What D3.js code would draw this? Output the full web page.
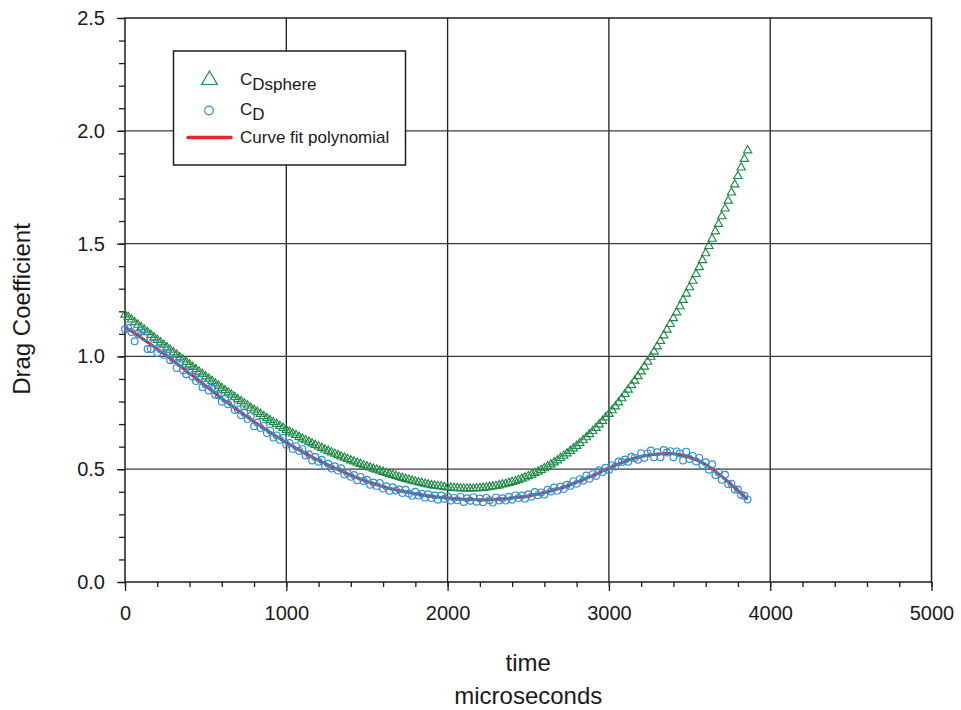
<!DOCTYPE html>
<html><head><meta charset="utf-8">
<script src="https://cdn.jsdelivr.net/npm/d3@7"></script>
<style>
body{margin:0;background:#fff}
svg{display:block}
text{font-family:"Liberation Sans",Arial,sans-serif;fill:#1a1a1a}
</style>
</head><body>
<svg id="chart" width="961" height="710"></svg>
<script>
// ---- data (time in microseconds, sampled every 20 µs from 0) ----
const sampleStep = 20;
const cdSphere = [
1.185,1.174,1.163,1.151,1.140, 1.129,1.118,1.107,1.095,1.084,
1.073,1.062,1.051,1.040,1.029, 1.018,1.007,0.996,0.986,0.975,
0.964,0.953,0.943,0.932,0.922, 0.911,0.901,0.891,0.880,0.870,
0.860,0.850,0.840,0.830,0.820, 0.810,0.801,0.791,0.782,0.772,
0.763,0.754,0.745,0.735,0.726, 0.717,0.708,0.700,0.691,0.683,
0.674,0.666,0.658,0.651,0.643, 0.635,0.628,0.621,0.614,0.607,
0.600,0.594,0.587,0.581,0.574, 0.568,0.562,0.556,0.551,0.545,
0.539,0.534,0.528,0.523,0.517, 0.512,0.507,0.502,0.498,0.493,
0.488,0.483,0.479,0.474,0.470, 0.465,0.461,0.457,0.453,0.449,
0.445,0.442,0.439,0.435,0.432, 0.429,0.427,0.425,0.423,0.421,
0.419,0.418,0.417,0.416,0.415, 0.414,0.414,0.414,0.414,0.415,
0.416,0.417,0.419,0.421,0.423, 0.425,0.428,0.432,0.435,0.439,
0.443,0.447,0.452,0.458,0.463, 0.469,0.475,0.482,0.489,0.496,
0.504,0.512,0.521,0.530,0.539, 0.549,0.559,0.570,0.581,0.592,
0.603,0.615,0.628,0.641,0.655, 0.669,0.683,0.698,0.714,0.729,
0.745,0.761,0.778,0.796,0.814, 0.833,0.852,0.872,0.892,0.912,
0.933,0.954,0.976,0.998,1.021, 1.044,1.068,1.093,1.118,1.143,
1.169,1.195,1.222,1.250,1.278, 1.306,1.335,1.365,1.395,1.426,
1.457,1.489,1.521,1.554,1.587, 1.621,1.655,1.690,1.726,1.762,
1.799,1.837,1.875,1.913
];
const cd = [
1.120,1.126,1.108,1.067,1.100, 1.113,1.085,1.033,1.033,1.058,
1.015,1.032,1.007,1.015,0.983, 0.986,0.949,0.970,0.939,0.921,
0.935,0.910,0.891,0.900,0.863, 0.875,0.849,0.862,0.830,0.828,
0.799,0.811,0.788,0.794,0.762, 0.765,0.739,0.750,0.723,0.735,
0.690,0.707,0.683,0.692,0.660, 0.671,0.640,0.650,0.630,0.639,
0.608,0.616,0.590,0.602,0.581, 0.589,0.561,0.566,0.539,0.554,
0.533,0.542,0.513,0.524,0.503, 0.513,0.494,0.504,0.476,0.483,
0.466,0.474,0.451,0.466,0.448, 0.453,0.431,0.441,0.426,0.439,
0.414,0.424,0.404,0.420,0.406, 0.411,0.394,0.409,0.392,0.382,
0.400,0.383,0.391,0.374,0.389, 0.372,0.383,0.365,0.383,0.369,
0.378,0.361,0.373,0.362,0.377, 0.355,0.371,0.360,0.376,0.356,
0.370,0.354,0.373,0.362,0.352, 0.375,0.361,0.371,0.361,0.378,
0.365,0.384,0.372,0.383,0.369, 0.389,0.378,0.399,0.385,0.397,
0.388,0.409,0.401,0.419,0.405, 0.423,0.412,0.431,0.426,0.447,
0.435,0.456,0.449,0.472,0.458, 0.478,0.470,0.495,0.488,0.506,
0.496,0.518,0.512,0.534,0.532, 0.543,0.533,0.555,0.550,0.542,
0.571,0.550,0.570,0.583,0.553, 0.575,0.553,0.585,0.574,0.580,
0.553,0.579,0.570,0.539,0.578, 0.545,0.559,0.534,0.550,0.517,
0.531,0.498,0.522,0.474,0.487, 0.453,0.475,0.433,0.436,0.410,
0.410,0.386,0.382,0.366
];
const fitTime = [0,100,200,300,400,500,600,700,800,900,1000,1100,1200,1300,1400,1500,1600,1700,1800,1900,
2000,2100,2200,2300,2400,2500,2600,2700,2800,2900,3000,3100,3200,3300,3400,3500,3600,3700,3800,3860];
const fitValue = [1.130,1.083,1.033,0.980,0.925,0.870,0.814,0.761,0.710,0.663,0.618,0.577,0.539,0.505,0.474,0.446,0.423,0.405,0.391,0.380,
0.372,0.367,0.365,0.366,0.372,0.381,0.396,0.416,0.442,0.472,0.505,0.535,0.556,0.567,0.568,0.553,0.521,0.468,0.405,0.366];
const xTicks = [0,1000,2000,3000,4000,5000];
const yTicks = [0.0,0.5,1.0,1.5,2.0,2.5];
const xGrid = [1000,2000,3000,4000];
const yGrid = [0.5,1.0,1.5,2.0];
const legendItems = ["Dsphere","D"];

// ---- layout ----
const L=125, R=931.5, T=18, B=582;
const svg = d3.select("#chart");
const x = d3.scaleLinear([0,5000],[L,R]);
const y = d3.scaleLinear([0,2.5],[B,T]);
const ink = "#1e1e1e";
const green = "#1f8a45", blue = "#2b8fd2", red = "#e52530";

// grid
svg.append("g").selectAll("line").data(xGrid).join("line")
  .attr("x1",d=>x(d)).attr("x2",d=>x(d)).attr("y1",T).attr("y2",B)
  .attr("stroke",ink).attr("stroke-width",1.3);
svg.append("g").selectAll("line").data(yGrid).join("line")
  .attr("y1",d=>y(d)).attr("y2",d=>y(d)).attr("x1",L).attr("x2",R)
  .attr("stroke","#3a3a3a").attr("stroke-width",1.3);

// axes: minor ticks
svg.append("g").attr("transform",`translate(0,${B})`)
  .call(d3.axisBottom(x).tickValues(d3.range(0,5001,200)).tickSize(5).tickFormat(""))
  .call(g=>g.select(".domain").remove())
  .call(g=>g.selectAll("line").attr("stroke",ink).attr("stroke-width",1.3));
svg.append("g").attr("transform",`translate(${L},0)`)
  .call(d3.axisLeft(y).tickValues(d3.range(0,2.501,0.1)).tickSize(6).tickFormat(""))
  .call(g=>g.select(".domain").remove())
  .call(g=>g.selectAll("line").attr("stroke",ink).attr("stroke-width",1.3));
// major
svg.append("g").attr("transform",`translate(0,${B})`)
  .call(d3.axisBottom(x).tickValues(xTicks).tickSize(9).tickPadding(15).tickFormat(d3.format("d")))
  .call(g=>g.select(".domain").remove())
  .call(g=>g.selectAll("line").attr("stroke",ink).attr("stroke-width",1.3))
  .call(g=>g.selectAll("text").attr("font-size",20).attr("fill","#1a1a1a")
        .attr("font-family",'"Liberation Sans",Arial,sans-serif'));
svg.append("g").attr("transform",`translate(${L},0)`)
  .call(d3.axisLeft(y).tickValues(yTicks).tickSize(8).tickPadding(12).tickFormat(d3.format(".1f")))
  .call(g=>g.select(".domain").remove())
  .call(g=>g.selectAll("line").attr("stroke",ink).attr("stroke-width",1.3))
  .call(g=>g.selectAll("text").attr("font-size",20).attr("fill","#1a1a1a")
        .attr("font-family",'"Liberation Sans",Arial,sans-serif'));

// frame
svg.append("rect").attr("x",L).attr("y",T).attr("width",R-L).attr("height",B-T)
  .attr("fill","none").attr("stroke",ink).attr("stroke-width",1.5);

// series
const tri = d3.symbol(d3.symbolTriangle, 30);
svg.append("g").selectAll("path").data(cdSphere).join("path")
  .attr("d",tri).attr("transform",(d,i)=>`translate(${x(i*sampleStep)},${y(d)})`)
  .attr("fill","none").attr("stroke",green).attr("stroke-width",1.15);

svg.append("path").datum(fitTime.map((t,i)=>[t,fitValue[i]]))
  .attr("d",d3.line().x(d=>x(d[0])).y(d=>y(d[1])).curve(d3.curveCatmullRom))
  .attr("fill","none").attr("stroke",red).attr("stroke-width",3);

svg.append("g").selectAll("circle").data(cd).join("circle")
  .attr("cx",(d,i)=>x(i*sampleStep)).attr("cy",d=>y(d)).attr("r",3.4)
  .attr("fill","none").attr("stroke",blue).attr("stroke-width",1.15);

// legend
const lg = svg.append("g");
lg.append("rect").attr("x",173.5).attr("y",51).attr("width",232).attr("height",114)
  .attr("fill","#fff").attr("stroke",ink).attr("stroke-width",1.5);
lg.append("path").attr("d",d3.symbol(d3.symbolTriangle,105)()).attr("transform","translate(209.5,80)")
  .attr("fill","none").attr("stroke",green).attr("stroke-width",1.2);
lg.append("circle").attr("cx",209).attr("cy",110.5).attr("r",4.3)
  .attr("fill","none").attr("stroke",blue).attr("stroke-width",1.2);
lg.append("line").attr("x1",188).attr("x2",231).attr("y1",137.5).attr("y2",137.5)
  .attr("stroke",red).attr("stroke-width",3.5).attr("stroke-linecap","round");
[85,115].forEach((by,i)=>{
  const t = lg.append("text").attr("x",240).attr("y",by).attr("font-size",17);
  t.append("tspan").text("C");
  t.append("tspan").attr("dy",5).text(legendItems[i]);
});
lg.append("text").attr("x",240).attr("y",143).attr("font-size",17).text("Curve fit polynomial");

// axis titles
svg.append("text").attr("transform","translate(30,309) rotate(-90)").attr("text-anchor","middle")
  .attr("font-size",24).text("Drag Coefficient");
svg.append("text").attr("x",(L+R)/2).attr("y",671).attr("text-anchor","middle").attr("font-size",24).text("time");
svg.append("text").attr("x",(L+R)/2).attr("y",704).attr("text-anchor","middle").attr("font-size",24).text("microseconds");
</script>
</body></html>
